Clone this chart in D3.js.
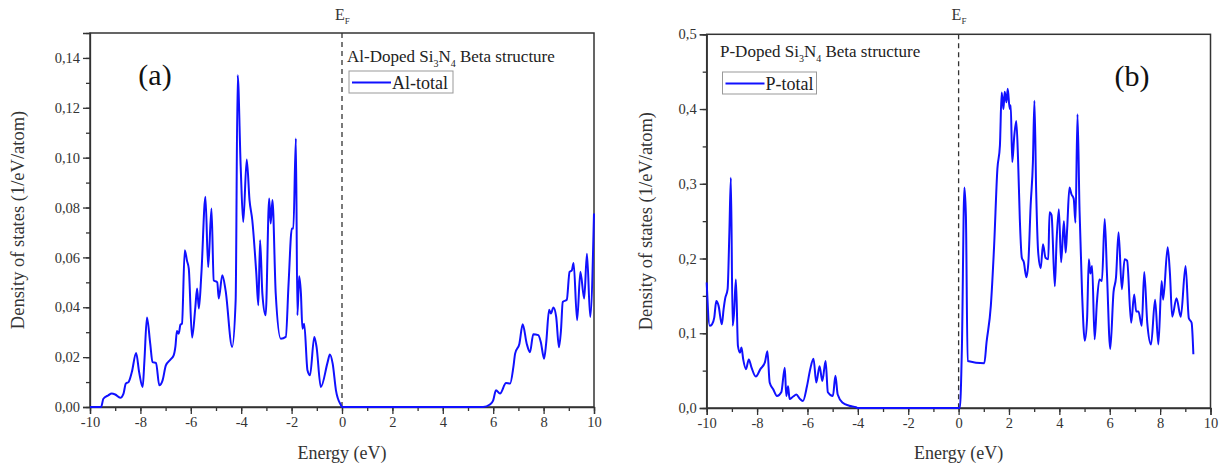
<!DOCTYPE html>
<html>
<head>
<meta charset="utf-8">
<script src="https://cdn.jsdelivr.net/npm/d3@7"></script>
<style>
  body { margin: 0; background: #fff; }
  svg text { font-family: 'Liberation Serif', 'Times New Roman', serif; }
</style>
</head>
<body>
<div id="chart"></div>
<script>
// Al-doped, [energy eV, DOS]
const alTotal = [
  [-10, 0], [-9.56, 0], [-9.47, 0.0033], [-9.27, 0.0047], [-9.14, 0.0054], [-9.0, 0.005],
  [-8.8, 0.0037], [-8.67, 0.0054], [-8.58, 0.0094], [-8.47, 0.010], [-8.34, 0.014],
  [-8.17, 0.0217], [-8.05, 0.014], [-7.91, 0.008], [-7.84, 0.0187], [-7.74, 0.0359],
  [-7.61, 0.0254], [-7.52, 0.018], [-7.38, 0.0177], [-7.25, 0.0087], [-7.12, 0.0107],
  [-6.99, 0.0167], [-6.81, 0.019], [-6.68, 0.0207], [-6.61, 0.0243], [-6.55, 0.0305],
  [-6.48, 0.0294], [-6.41, 0.033], [-6.35, 0.0334], [-6.24, 0.0629], [-6.15, 0.0586],
  [-6.08, 0.0555], [-5.95, 0.0278], [-5.82, 0.040], [-5.75, 0.0475], [-5.68, 0.0395],
  [-5.58, 0.0535], [-5.42, 0.0843], [-5.31, 0.056], [-5.18, 0.0796], [-5.09, 0.0508],
  [-4.95, 0.050], [-4.89, 0.0435], [-4.75, 0.0528], [-4.62, 0.0468], [-4.36, 0.0241],
  [-4.22, 0.0428], [-4.14, 0.1331], [-4.02, 0.0963], [-3.92, 0.0742], [-3.78, 0.0993],
  [-3.67, 0.083], [-3.56, 0.0749], [-3.40, 0.0535], [-3.32, 0.0408], [-3.25, 0.0669],
  [-3.16, 0.0455], [-3.03, 0.0368], [-2.89, 0.0836], [-2.83, 0.0736], [-2.76, 0.083],
  [-2.63, 0.0455], [-2.43, 0.0274], [-2.23, 0.0281], [-2.12, 0.0495], [-1.99, 0.0716],
  [-1.93, 0.0716], [-1.83, 0.1077], [-1.77, 0.0368], [-1.70, 0.0524], [-1.63, 0.0455],
  [-1.57, 0.0314], [-1.50, 0.0334], [-1.37, 0.0147], [-1.27, 0.0127], [-1.10, 0.0281],
  [-1.01, 0.0241], [-0.84, 0.008], [-0.57, 0.018], [-0.48, 0.0211], [-0.37, 0.0174],
  [-0.24, 0.0067], [-0.04, 0.0007], [0, 0], [5.6, 0], [5.87, 0.001], [6.0, 0.0027],
  [6.11, 0.0067], [6.27, 0.0054], [6.51, 0.0096], [6.67, 0.0094], [6.80, 0.016],
  [6.87, 0.0214], [7.04, 0.0254], [7.17, 0.0332], [7.33, 0.0254], [7.46, 0.022],
  [7.59, 0.0292], [7.79, 0.0288], [7.89, 0.026], [8.02, 0.0194], [8.10, 0.0254],
  [8.22, 0.039], [8.29, 0.0375], [8.39, 0.0399], [8.50, 0.0361], [8.61, 0.024],
  [8.69, 0.0308], [8.76, 0.0421], [8.92, 0.043], [9.03, 0.0542], [9.12, 0.0548],
  [9.19, 0.0578], [9.33, 0.0348], [9.46, 0.0542], [9.61, 0.0435], [9.72, 0.0615],
  [9.85, 0.0361], [10.0, 0.0776]
]

// P-doped, [energy eV, DOS]
const pTotal = [
  [-10, 0.168], [-9.88, 0.110], [-9.79, 0.112], [-9.7, 0.121], [-9.62, 0.143], [-9.53, 0.137],
  [-9.40, 0.112], [-9.33, 0.132], [-9.27, 0.146], [-9.17, 0.159], [-9.10, 0.235],
  [-9.04, 0.308], [-8.97, 0.110], [-8.92, 0.125], [-8.84, 0.172], [-8.76, 0.083],
  [-8.68, 0.074], [-8.62, 0.081], [-8.55, 0.065], [-8.44, 0.052], [-8.33, 0.065],
  [-8.22, 0.054], [-8.05, 0.042], [-7.87, 0.052], [-7.69, 0.061], [-7.59, 0.076],
  [-7.50, 0.034], [-7.36, 0.025], [-7.21, 0.016], [-7.04, 0.021], [-6.90, 0.054],
  [-6.84, 0.016], [-6.77, 0.029], [-6.71, 0.012], [-6.58, 0.015], [-6.44, 0.018],
  [-6.31, 0.0125], [-6.18, 0.0094], [-6.02, 0.029], [-5.89, 0.052], [-5.76, 0.066],
  [-5.65, 0.034], [-5.52, 0.056], [-5.41, 0.036], [-5.28, 0.063], [-5.19, 0.021],
  [-4.99, 0.016], [-4.89, 0.043], [-4.80, 0.018], [-4.60, 0.007], [-4.34, 0.003],
  [-4.07, 0.001], [-4.0, 0], [0.05, 0], [0.13, 0.079], [0.23, 0.295], [0.29, 0.257],
  [0.36, 0.063], [1.02, 0.060], [1.11, 0.088], [1.28, 0.137], [1.41, 0.217], [1.54, 0.320],
  [1.64, 0.351], [1.71, 0.422], [1.78, 0.400], [1.83, 0.423], [1.90, 0.409], [1.95, 0.427],
  [2.03, 0.400], [2.07, 0.405], [2.13, 0.329], [2.21, 0.364], [2.29, 0.384], [2.36, 0.333],
  [2.43, 0.253], [2.51, 0.201], [2.59, 0.195], [2.69, 0.175], [2.77, 0.195], [2.86, 0.271],
  [2.95, 0.329], [3.01, 0.411], [3.08, 0.289], [3.16, 0.208], [3.26, 0.187], [3.35, 0.219],
  [3.45, 0.201], [3.56, 0.199], [3.61, 0.262], [3.69, 0.258], [3.82, 0.163], [3.89, 0.224],
  [3.98, 0.266], [4.07, 0.195], [4.18, 0.250], [4.25, 0.208], [4.31, 0.240], [4.40, 0.295],
  [4.48, 0.286], [4.57, 0.280], [4.64, 0.248], [4.72, 0.393], [4.80, 0.266], [4.90, 0.155],
  [5.01, 0.090], [5.10, 0.119], [5.17, 0.199], [5.23, 0.180], [5.30, 0.190], [5.40, 0.092],
  [5.49, 0.141], [5.59, 0.172], [5.69, 0.170], [5.80, 0.253], [5.89, 0.180], [6.02, 0.079],
  [6.15, 0.155], [6.25, 0.175], [6.35, 0.235], [6.48, 0.159], [6.59, 0.199], [6.69, 0.197],
  [6.85, 0.114], [6.97, 0.152], [7.05, 0.129], [7.14, 0.129], [7.27, 0.110], [7.37, 0.182],
  [7.49, 0.114], [7.64, 0.085], [7.80, 0.145], [7.93, 0.085], [8.06, 0.170], [8.12, 0.145],
  [8.30, 0.215], [8.39, 0.180], [8.48, 0.122], [8.65, 0.147], [8.82, 0.122], [9.01, 0.190],
  [9.14, 0.120], [9.25, 0.114], [9.32, 0.072]
]

const xTicks = [-10, -8, -6, -4, -2, 0, 2, 4, 6, 8, 10]
const alYTicks = [0, 0.02, 0.04, 0.06, 0.08, 0.10, 0.12, 0.14]
const pYTicks = [0, 0.1, 0.2, 0.3, 0.4, 0.5]

const serif = "'Liberation Serif', 'Times New Roman', serif"

const svg = d3
  .select('#chart')
  .append('svg')
  .attr('width', 1222)
  .attr('height', 468)

const fmt = digits => d => d3.format('.' + digits + 'f')(d).replace('.', ',')

function drawPanel(opts) {
  const { left, right, top, bottom, yMax, yTicks, yMinor, yDigits, data } = opts

  const x = d3.scaleLinear().domain([-10, 10]).range([left, right])
  const y = d3.scaleLinear().domain([0, yMax]).range([bottom, top])

  const g = svg.append('g')

  // minor ticks
  g.append('g')
    .attr('transform', `translate(0,${bottom})`)
    .call(d3.axisBottom(x).tickValues(d3.range(-10, 10.5, 1)).tickSize(4).tickFormat(''))
    .call(a => a.select('.domain').remove())
  g.append('g')
    .attr('transform', `translate(${left},0)`)
    .call(d3.axisLeft(y).tickValues(d3.range(0, yMax + 1e-9, yMinor)).tickSize(4).tickFormat(''))
    .call(a => a.select('.domain').remove())

  // major ticks with labels
  g.append('g')
    .attr('transform', `translate(0,${bottom})`)
    .call(d3.axisBottom(x).tickValues(xTicks).tickSize(7).tickPadding(3).tickFormat(d => d))
  g.append('g')
    .attr('transform', `translate(${left},0)`)
    .call(d3.axisLeft(y).tickValues(yTicks).tickSize(7).tickPadding(3).tickFormat(fmt(yDigits)))

  g.selectAll('.tick line, .domain').attr('stroke', '#333').attr('stroke-width', 1.3)
  g.selectAll('.tick text')
    .attr('fill', '#333')
    .style('font-family', serif)
    .style('font-size', '14.5px')

  // frame
  g.append('rect')
    .attr('x', left)
    .attr('y', top)
    .attr('width', right - left)
    .attr('height', bottom - top)
    .attr('fill', 'none')
    .attr('stroke', '#333')
    .attr('stroke-width', 1.5)

  // Fermi level
  g.append('line')
    .attr('x1', x(0))
    .attr('x2', x(0))
    .attr('y1', top)
    .attr('y2', bottom)
    .attr('stroke', '#333')
    .attr('stroke-width', 1.3)
    .attr('stroke-dasharray', '5,4')

  const ef = g.append('text')
    .attr('x', x(0) - 7)
    .attr('y', 20)
    .attr('font-size', 16)
    .attr('fill', '#333')
  ef.append('tspan').text('E')
  ef.append('tspan').attr('font-size', 9).attr('dy', 4).text('F')

  // curve
  const line = d3.line()
    .x(d => x(d[0]))
    .y(d => y(d[1]))
    .curve(d3.curveMonotoneX)

  g.append('path')
    .datum(data)
    .attr('d', line)
    .attr('fill', 'none')
    .attr('stroke', '#1010ff')
    .attr('stroke-width', 2)
    .attr('stroke-linejoin', 'round')

  // axis titles
  g.append('text')
    .attr('x', (left + right) / 2)
    .attr('y', 459)
    .attr('text-anchor', 'middle')
    .attr('font-size', 18)
    .attr('fill', '#333')
    .text('Energy (eV)')

  g.append('text')
    .attr('transform', `translate(${opts.yTitleX},${(top + bottom) / 2}) rotate(-90)`)
    .attr('text-anchor', 'middle')
    .attr('font-size', 18.5)
    .attr('fill', '#333')
    .text('Density of states (1/eV/atom)')

  // structure annotation
  const note = g.append('text')
    .attr('x', opts.noteX)
    .attr('y', opts.noteY)
    .attr('font-size', 17)
    .attr('fill', '#222')
  note.append('tspan').text(opts.dopant + '-Doped Si')
  note.append('tspan').attr('font-size', 10).attr('dy', 5).text('3')
  note.append('tspan').attr('dy', -5).text('N')
  note.append('tspan').attr('font-size', 10).attr('dy', 5).text('4')
  note.append('tspan').attr('dy', -5).text(' Beta structure')

  // legend
  const lg = g.append('g').attr('transform', `translate(${opts.legX},${opts.legY})`)
  lg.append('rect')
    .attr('width', opts.legW)
    .attr('height', 22)
    .attr('fill', '#fff')
    .attr('stroke', '#999')
    .attr('stroke-width', 1)
  lg.append('line')
    .attr('x1', 3)
    .attr('x2', 42)
    .attr('y1', 11.5)
    .attr('y2', 11.5)
    .attr('stroke', '#1010ff')
    .attr('stroke-width', 2)
  lg.append('text')
    .attr('x', 43)
    .attr('y', 18)
    .attr('font-size', 18)
    .attr('fill', '#222')
    .text(opts.dopant + '-total')

  // panel letter
  g.append('text')
    .attr('x', opts.letterX)
    .attr('y', opts.letterY)
    .attr('text-anchor', 'middle')
    .attr('font-size', 30)
    .attr('fill', '#111')
    .text(opts.letter)
}

drawPanel({
  left: 90, right: 594, top: 33, bottom: 407,
  yMax: 0.15, yTicks: alYTicks, yMinor: 0.01, yDigits: 2,
  data: alTotal, dopant: 'Al', letter: '(a)',
  letterX: 155, letterY: 85,
  noteX: 347, noteY: 62,
  legX: 349, legY: 71, legW: 104,
  yTitleX: 24
})

drawPanel({
  left: 706.7, right: 1210.5, top: 34.3, bottom: 408,
  yMax: 0.5, yTicks: pYTicks, yMinor: 0.05, yDigits: 1,
  data: pTotal, dopant: 'P', letter: '(b)',
  letterX: 1132, letterY: 86,
  noteX: 720, noteY: 57,
  legX: 722.5, legY: 72, legW: 94,
  yTitleX: 652
})
</script>
</body>
</html>
